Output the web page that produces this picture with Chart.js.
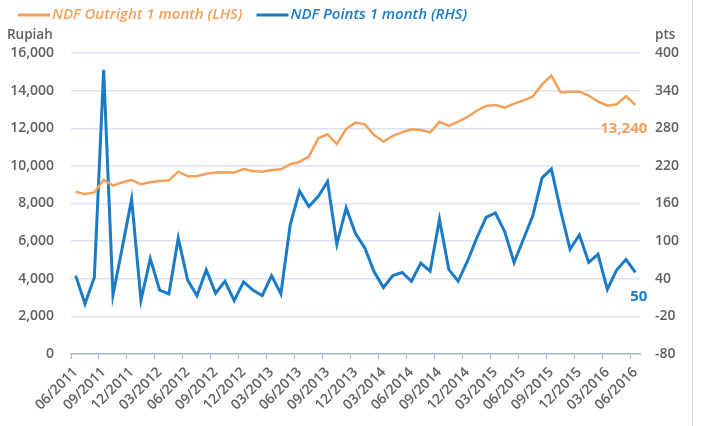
<!DOCTYPE html>
<html>
<head>
<meta charset="utf-8">
<script src="https://cdn.jsdelivr.net/npm/chart.js@4.4.1/dist/chart.umd.min.js"></script>
<style>
  html, body { margin: 0; padding: 0; background: #fff; }
  #wrap { width: 720px; height: 426px; }
</style>
</head>
<body>
<div id="wrap"><canvas id="chart" width="720" height="426"></canvas></div>
<script>
// monthly categories, 06/2011 .. 06/2016
const months = [
  '06/2011', '07/2011', '08/2011', '09/2011', '10/2011', '11/2011', '12/2011',
  '01/2012', '02/2012', '03/2012', '04/2012', '05/2012', '06/2012', '07/2012', '08/2012', '09/2012', '10/2012', '11/2012', '12/2012',
  '01/2013', '02/2013', '03/2013', '04/2013', '05/2013', '06/2013', '07/2013', '08/2013', '09/2013', '10/2013', '11/2013', '12/2013',
  '01/2014', '02/2014', '03/2014', '04/2014', '05/2014', '06/2014', '07/2014', '08/2014', '09/2014', '10/2014', '11/2014', '12/2014',
  '01/2015', '02/2015', '03/2015', '04/2015', '05/2015', '06/2015', '07/2015', '08/2015', '09/2015', '10/2015', '11/2015', '12/2015',
  '01/2016', '02/2016', '03/2016', '04/2016', '05/2016', '06/2016',
];

// NDF outright 1 month, Rupiah (LHS)
const outright = [
  8620, 8500, 8590, 9250, 8950, 9130, 9250, 9020, 9130, 9200, 9230, 9690, 9450,
  9445, 9585, 9650, 9656, 9650, 9830, 9730, 9690, 9780, 9820, 10085, 10220,
  10490, 11465, 11680, 11150, 11960, 12300, 12210, 11640, 11290, 11600, 11785, 11945,
  11910, 11785, 12340, 12130, 12350, 12600, 12930, 13190, 13240, 13100, 13310, 13480,
  13680, 14330, 14800, 13900, 13945, 13945, 13740, 13420, 13200, 13270, 13700, 13240,
];

// NDF points 1 month, pts (RHS)
const points = [
  45, 0, 42, 373, 14, 90, 167, 6, 72, 22, 16, 105, 38,
  13, 54, 17, 36, 5, 35, 22, 13, 45, 16, 126, 180,
  155, 171, 195, 95, 153, 112, 89, 51, 26, 45, 50, 36,
  65, 52, 135, 55, 36, 68, 105, 138, 145, 115, 66, 103,
  140, 201, 215, 148, 87, 110, 66, 79, 23, 54, 71, 50,
];

const seriesNames = ['NDF Outright 1 month (LHS)', 'NDF Points 1 month (RHS)'];
const endLabels = ['13,240', '50'];

const ORANGE = '#f5a05a';
const BLUE = '#1b7bc6';
const GREY_TEXT = '#5f5f5f';
const GRID = '#dce1f3';
const FONT = '"Open Sans", "Liberation Sans", sans-serif';

const overlayPlugin = {
  id: 'overlay',
  afterDraw(chart) {
    const ctx = chart.ctx;
    ctx.save();

    // legend drawn by hand so the plot area stays put
    ctx.font = `italic 600 15px ${FONT}`;
    ctx.textBaseline = 'middle';
    ctx.textAlign = 'left';
    let x = 18;
    const colors = [ORANGE, BLUE];
    seriesNames.forEach((name, i) => {
      ctx.strokeStyle = colors[i];
      ctx.lineWidth = 3;
      ctx.beginPath();
      ctx.moveTo(x, 15);
      ctx.lineTo(x + 32, 15);
      ctx.stroke();
      ctx.fillStyle = colors[i];
      ctx.fillText(name, x + 34, 15);
      x += 34 + ctx.measureText(name).width + 14;
    });

    // axis unit titles
    ctx.font = `600 13.5px ${FONT}`;
    ctx.fillStyle = GREY_TEXT;
    ctx.fillText('Rupiah', 7, 35);
    ctx.fillText('pts', 655, 35);

    // last value labels
    ctx.font = `bold 15px ${FONT}`;
    ctx.textAlign = 'right';
    [0, 1].forEach((di) => {
      const meta = chart.getDatasetMeta(di);
      const last = meta.data[meta.data.length - 1];
      ctx.fillStyle = colors[di];
      ctx.fillText(endLabels[di], last.x + 12, last.y + 24);
    });

    // frame edge
    ctx.strokeStyle = '#d6d6d6';
    ctx.lineWidth = 1;
    ctx.beginPath();
    ctx.moveTo(692.5, 0);
    ctx.lineTo(692.5, 426);
    ctx.stroke();
    ctx.restore();
  },
};

new Chart(document.getElementById('chart'), {
  type: 'line',
  data: {
    labels: months,
    datasets: [
      {
        label: seriesNames[0],
        data: outright,
        yAxisID: 'y',
        borderColor: ORANGE,
        borderWidth: 2.5,
        pointRadius: 0,
        tension: 0,
      },
      {
        label: seriesNames[1],
        data: points,
        yAxisID: 'y1',
        borderColor: BLUE,
        borderWidth: 3,
        pointRadius: 0,
        tension: 0,
      },
    ],
  },
  options: {
    responsive: false,
    animation: false,
    layout: { padding: { top: 53, left: 0, right: 0, bottom: 0 } },
    plugins: {
      legend: { display: false },
      tooltip: { enabled: false },
    },
    scales: {
      x: {
        offset: true,
        afterFit(scale) { scale.height = 72; },
        grid: {
          offset: true,
          drawOnChartArea: false,
          tickLength: 5,
          tickColor: (c) => (c.index % 3 === 0 ? '#a9b6cc' : 'transparent'),
        },
        border: { color: '#a9b6cc', width: 1.5 },
        ticks: {
          autoSkip: false,
          maxRotation: 45,
          minRotation: 45,
          padding: 5,
          color: GREY_TEXT,
          font: { family: FONT, size: 14, weight: '600' },
          callback(value, index) {
            return index % 3 === 0 ? months[index] : '';
          },
        },
      },
      y: {
        position: 'left',
        min: 0,
        max: 16000,
        afterFit(scale) { scale.width = 71; },
        grid: { color: GRID, lineWidth: 1.5, drawTicks: false },
        border: { display: false },
        ticks: {
          stepSize: 2000,
          padding: 17,
          color: GREY_TEXT,
          font: { family: FONT, size: 14, weight: '600' },
          callback(value) { return value.toLocaleString('en-US'); },
        },
      },
      y1: {
        position: 'right',
        min: -80,
        max: 400,
        afterFit(scale) { scale.width = 80; },
        grid: { drawOnChartArea: false, drawTicks: false },
        border: { display: false },
        ticks: {
          stepSize: 60,
          padding: 15,
          color: GREY_TEXT,
          font: { family: FONT, size: 14, weight: '600' },
        },
      },
    },
  },
  plugins: [overlayPlugin],
});
</script>
</body>
</html>
